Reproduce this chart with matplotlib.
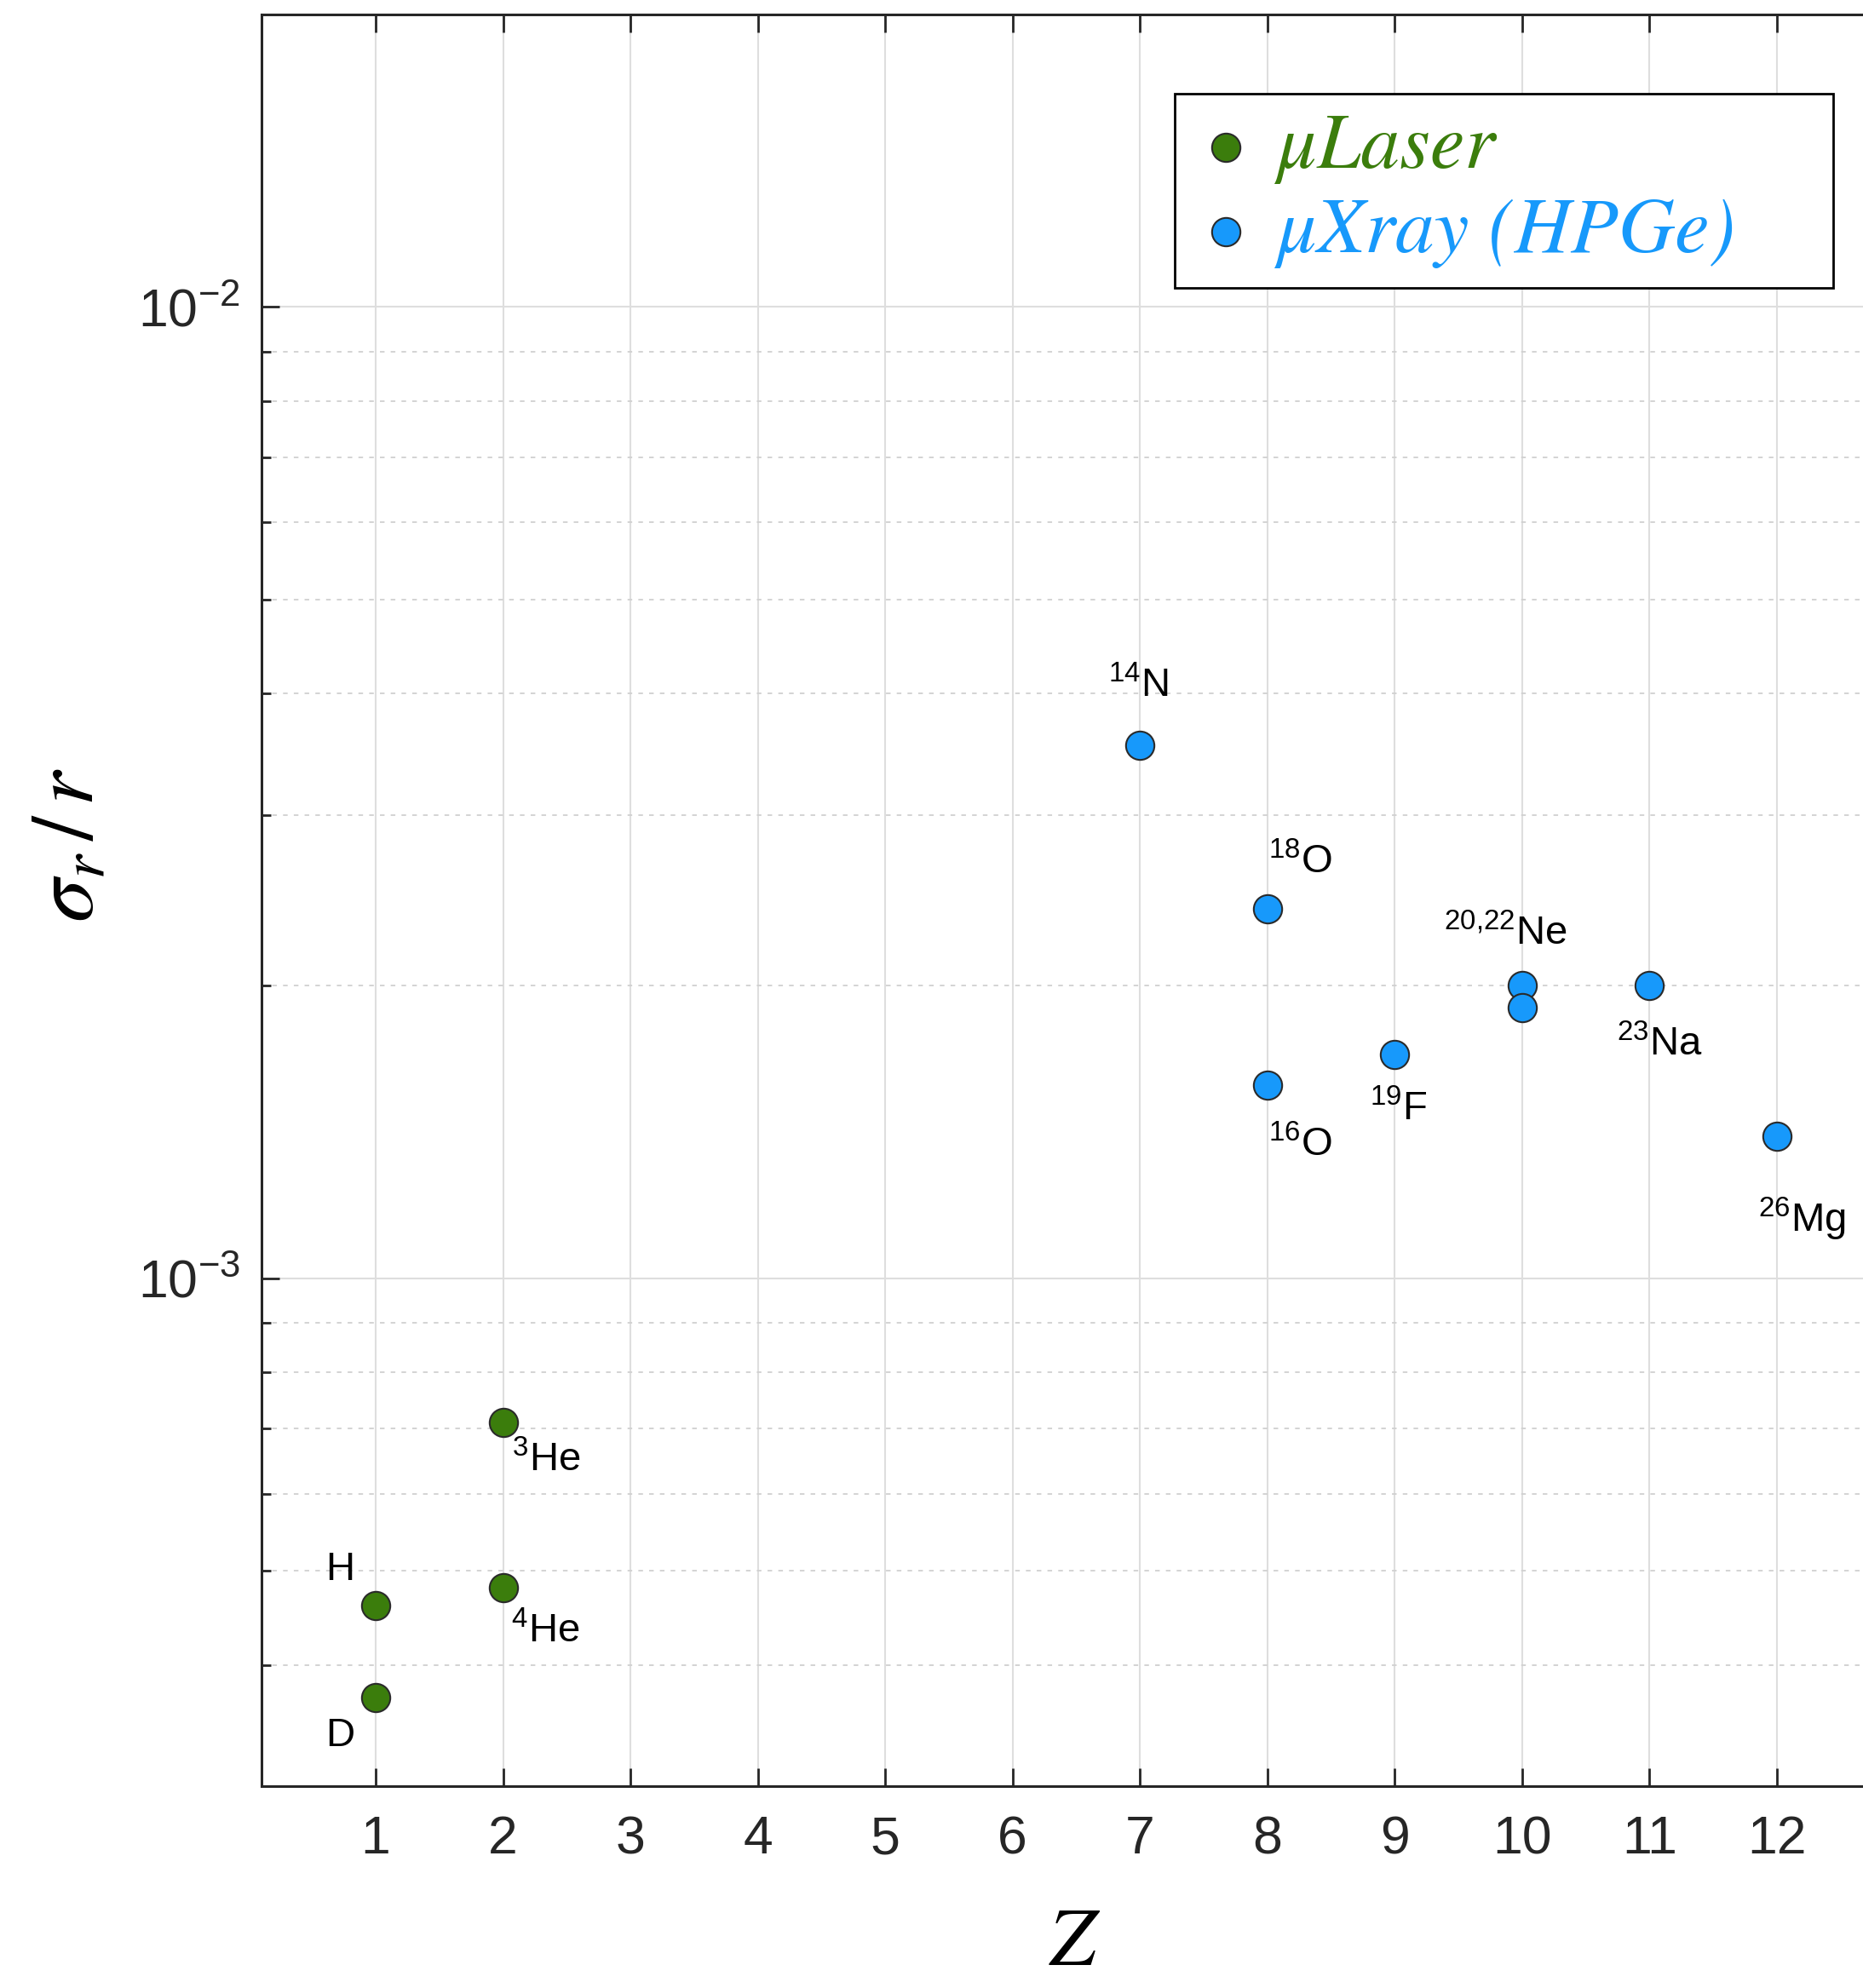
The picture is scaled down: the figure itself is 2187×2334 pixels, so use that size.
import numpy as np
import matplotlib
matplotlib.use('Agg')
import matplotlib.pyplot as plt

plt.rcParams['font.family'] = ['Liberation Sans', 'DejaVu Sans']
plt.rcParams['mathtext.fontset'] = 'custom'
plt.rcParams['mathtext.rm'] = 'Liberation Sans'
plt.rcParams['mathtext.it'] = 'Liberation Sans:italic'
plt.rcParams['axes.unicode_minus'] = False

# データ
laser_z = [1, 1, 2, 2]
laser_val = [4.60e-4, 3.70e-4, 7.10e-4, 4.80e-4]

xray_z = [7, 8, 8, 9, 10, 10, 11, 12]
xray_val = [3.54e-3, 2.40e-3, 1.58e-3, 1.70e-3, 2.00e-3, 1.90e-3, 2.00e-3, 1.40e-3]

# ラベル (テキスト, x, y, 横揃え)
labels = [
    ('H', 0.72, 5.01e-4, 'center'),
    ('D', 0.72, 3.38e-4, 'center'),
    (r'$^{3}$He', 2.07, 6.49e-4, 'left'),
    (r'$^{4}$He', 2.06, 4.33e-4, 'left'),
    (r'$^{14}$N', 6.99, 4.07e-3, 'center'),
    (r'$^{18}$O', 8.01, 2.68e-3, 'left'),
    (r'$^{16}$O', 8.01, 1.37e-3, 'left'),
    (r'$^{19}$F', 9.03, 1.49e-3, 'center'),
    (r'$^{20{,}22}$Ne', 9.87, 2.26e-3, 'center'),
    (r'$^{23}$Na', 11.08, 1.74e-3, 'center'),
    (r'$^{26}$Mg', 12.20, 1.15e-3, 'center'),
]

legend_names = ['\u03bcLaser', '\u03bcXray (HPGe)    ']

green = '#3b7d0c'
blue = '#1799fb'
axcol = '#262626'

fig = plt.figure(figsize=(21.87, 23.34), dpi=100)
ax = fig.add_axes([0.1404, 0.1015, 0.8596, 0.8912])

ax.scatter(laser_z, laser_val, s=24**2, color=green, edgecolors='#2a2a2a',
           linewidths=1.5, zorder=5, label=legend_names[0])
ax.scatter(xray_z, xray_val, s=24**2, color=blue, edgecolors='#2a2a2a',
           linewidths=1.5, zorder=5, label=legend_names[1])

for txt, x, y, ha in labels:
    ax.text(x, y, txt, ha=ha, va='center', fontsize=34, color='black', zorder=6)

ax.set_yscale('log')
ax.set_xlim(0.104, 12.676)
ax.set_ylim(3.0e-4, 2.0e-2)
ax.set_xticks(range(1, 13))

ax.grid(True, which='major', color='#dedede', linewidth=1.5, linestyle='-')
ax.grid(True, which='minor', axis='y', color='#d0d0d0', linewidth=1.3, linestyle=(0, (3, 4)))
ax.set_axisbelow(True)

ax.tick_params(which='both', direction='in', top=True, right=False, colors=axcol,
               labelsize=45, width=2)
ax.tick_params(which='major', length=15)
ax.tick_params(which='minor', length=8)
ax.tick_params(axis='x', pad=24)
ax.tick_params(axis='y', pad=18)
ax.minorticks_on()
ax.xaxis.set_minor_locator(matplotlib.ticker.NullLocator())
ax.yaxis.set_minor_formatter(matplotlib.ticker.NullFormatter())

for sp in ['left', 'bottom', 'top']:
    ax.spines[sp].set_color(axcol)
    ax.spines[sp].set_linewidth(2.2)
ax.spines['right'].set_visible(False)

ax.set_xlabel(r'$Z$', fontsize=70, math_fontfamily='stix')
ax.xaxis.set_label_coords(0.508, -0.089)
ax.xaxis.label.set_va('center')
ax.set_ylabel(r'$\sigma_r\,/\,r$', fontsize=74, math_fontfamily='stix')
ax.yaxis.set_label_coords(-0.119, 0.531)
ax.yaxis.label.set_va('center')

leg = ax.legend(loc='upper right', bbox_to_anchor=(0.984, 0.9529),
                bbox_transform=fig.transFigure, borderaxespad=0,
                prop={'family': 'STIXGeneral', 'style': 'italic', 'size': 66},
                frameon=True, fancybox=False,
                handletextpad=0.25, borderpad=0.25, labelspacing=0.17,
                handlelength=0.8, markerscale=1.0)
leg.get_frame().set_edgecolor('black')
leg.get_frame().set_linewidth(2)
leg.get_frame().set_alpha(1)
for t, c in zip(leg.get_texts(), [green, blue]):
    t.set_color(c)

fig.savefig('out.png', dpi=100)
